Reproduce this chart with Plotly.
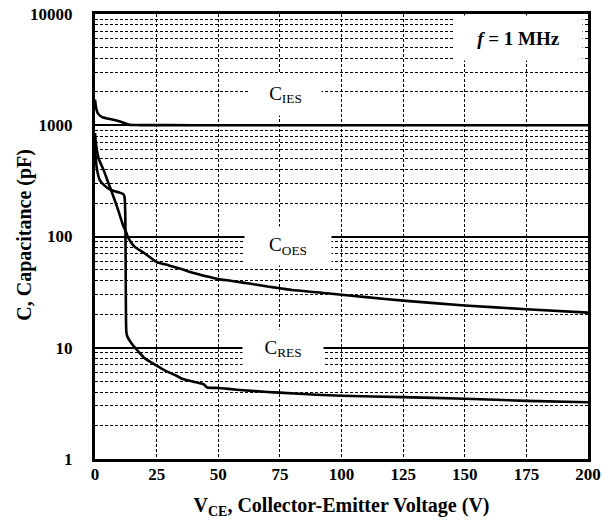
import plotly.graph_objects as go
import math

# ---- data ----
v_ies = [0, 0.5, 1, 2, 3, 5, 7, 9, 11, 12.5, 14, 17, 20, 30, 50, 100, 150, 200]
c_ies = [1700, 1420, 1300, 1220, 1180, 1150, 1125, 1100, 1065, 1035, 1008, 1004, 1003, 1002, 1001, 1001, 1000, 1000]

v_oes = [0, 0.5, 1.5, 3.5, 5.5, 7.5, 9.5, 11.5, 12.8, 13.5, 16, 20, 25, 30, 35, 40, 45, 50, 55, 60, 65, 70, 75,
         80, 90, 100, 110, 125, 150, 175, 200]
c_oes = [850, 650, 500, 395, 300, 228, 170, 124, 107, 97, 81, 71, 59, 55, 51, 47, 44, 41.4, 40, 38.5, 37, 35.5, 34.3,
         33, 31.5, 30, 28.5, 26.5, 24, 22.2, 20.7]

v_res = [0, 0.3, 1, 2, 4, 6, 8, 10, 11.5, 12, 12.3, 12.45, 12.55, 12.7, 13, 15, 17.5, 20, 25, 27, 30, 33, 35, 40,
         44, 45.5, 50, 55, 60, 70, 75, 90, 100, 125, 150, 175, 200]
c_res = [700, 500, 380, 320, 285, 265, 255, 248, 240, 225, 150, 50, 20, 14, 12.8, 10.8, 9.3, 8.1, 6.9, 6.5, 6.0, 5.6,
         5.3, 4.95, 4.7, 4.4, 4.35, 4.25, 4.15, 4.0, 3.95, 3.78, 3.7, 3.6, 3.48, 3.33, 3.24]

x_ticks = [0, 25, 50, 75, 100, 125, 150, 175, 200]
y_ticks = [1, 10, 100, 1000, 10000]
y_minor = [m * 10 ** d for d in range(0, 4) for m in range(2, 10)]

# curve labels, each on a white box that hides the grid behind it
label_text = ["C<sub>IES</sub>", "C<sub>OES</sub>", "C<sub>RES</sub>", "<b><i>f</i> = 1 MHz</b>"]
label_x = [77.3, 78.3, 76.3, 171.8]
label_y = [1888, 82.2, 9.84, 6080]
label_w = [71, 86, 80, 127]
label_h = [41, 38, 37, 44]

y_title = "C, Capacitance (pF)"
x_title = "V<sub>CE</sub>, Collector-Emitter Voltage (V)"

SERIF = "Liberation Serif"

fig = go.Figure()
for vx, cy in [(v_ies, c_ies), (v_oes, c_oes), (v_res, c_res)]:
    fig.add_trace(go.Scatter(x=vx, y=cy, mode="lines",
                             line=dict(color="black", width=2.6, shape="spline", smoothing=0.5),
                             showlegend=False, hoverinfo="skip"))

for t, lx, ly, w, h in zip(label_text, label_x, label_y, label_w, label_h):
    fig.add_annotation(x=lx, y=math.log10(ly), text=t, showarrow=False,
                       width=w, height=h, borderpad=0, bgcolor="white",
                       align="center", valign="middle",
                       font=dict(family=SERIF, size=19, color="black"))

# y-axis title placed as rotated paper text
fig.add_annotation(xref="paper", yref="paper", x=-0.142, y=0.504, text=y_title,
                   textangle=-90, showarrow=False, xanchor="center", yanchor="middle",
                   font=dict(family=SERIF, size=20, color="black", weight="bold"))

fig.update_layout(
    width=611, height=521,
    margin=dict(l=95, r=23, t=14, b=62, autoexpand=False),
    paper_bgcolor="white", plot_bgcolor="white",
    showlegend=False,
)
fig.update_xaxes(
    range=[0, 200], tickvals=x_ticks, ticktext=[str(t) for t in x_ticks],
    showline=True, linewidth=3, linecolor="black", mirror=True,
    showgrid=True, gridcolor="black", gridwidth=1, griddash="3px,2px",
    zeroline=False, ticks="", ticklabelstandoff=-2,
    tickfont=dict(family=SERIF, size=17, color="black", weight="bold"),
    title=dict(text=x_title,
               font=dict(family=SERIF, size=20, color="black", weight="bold"), standoff=15),
)
fig.update_yaxes(
    type="log", range=[0, 4], tickvals=y_ticks, ticktext=[str(t) for t in y_ticks],
    showline=True, linewidth=3, linecolor="black", mirror=True,
    showgrid=True, gridcolor="black", gridwidth=1.6,
    zeroline=False, ticks="", ticklabelstandoff=16,
    tickfont=dict(family=SERIF, size=17, color="black", weight="bold"),
    minor=dict(tickvals=y_minor, showgrid=True, gridcolor="black", gridwidth=1.1, griddash="3px,2px", ticks=""),
)

fig.write_html("out.html")
